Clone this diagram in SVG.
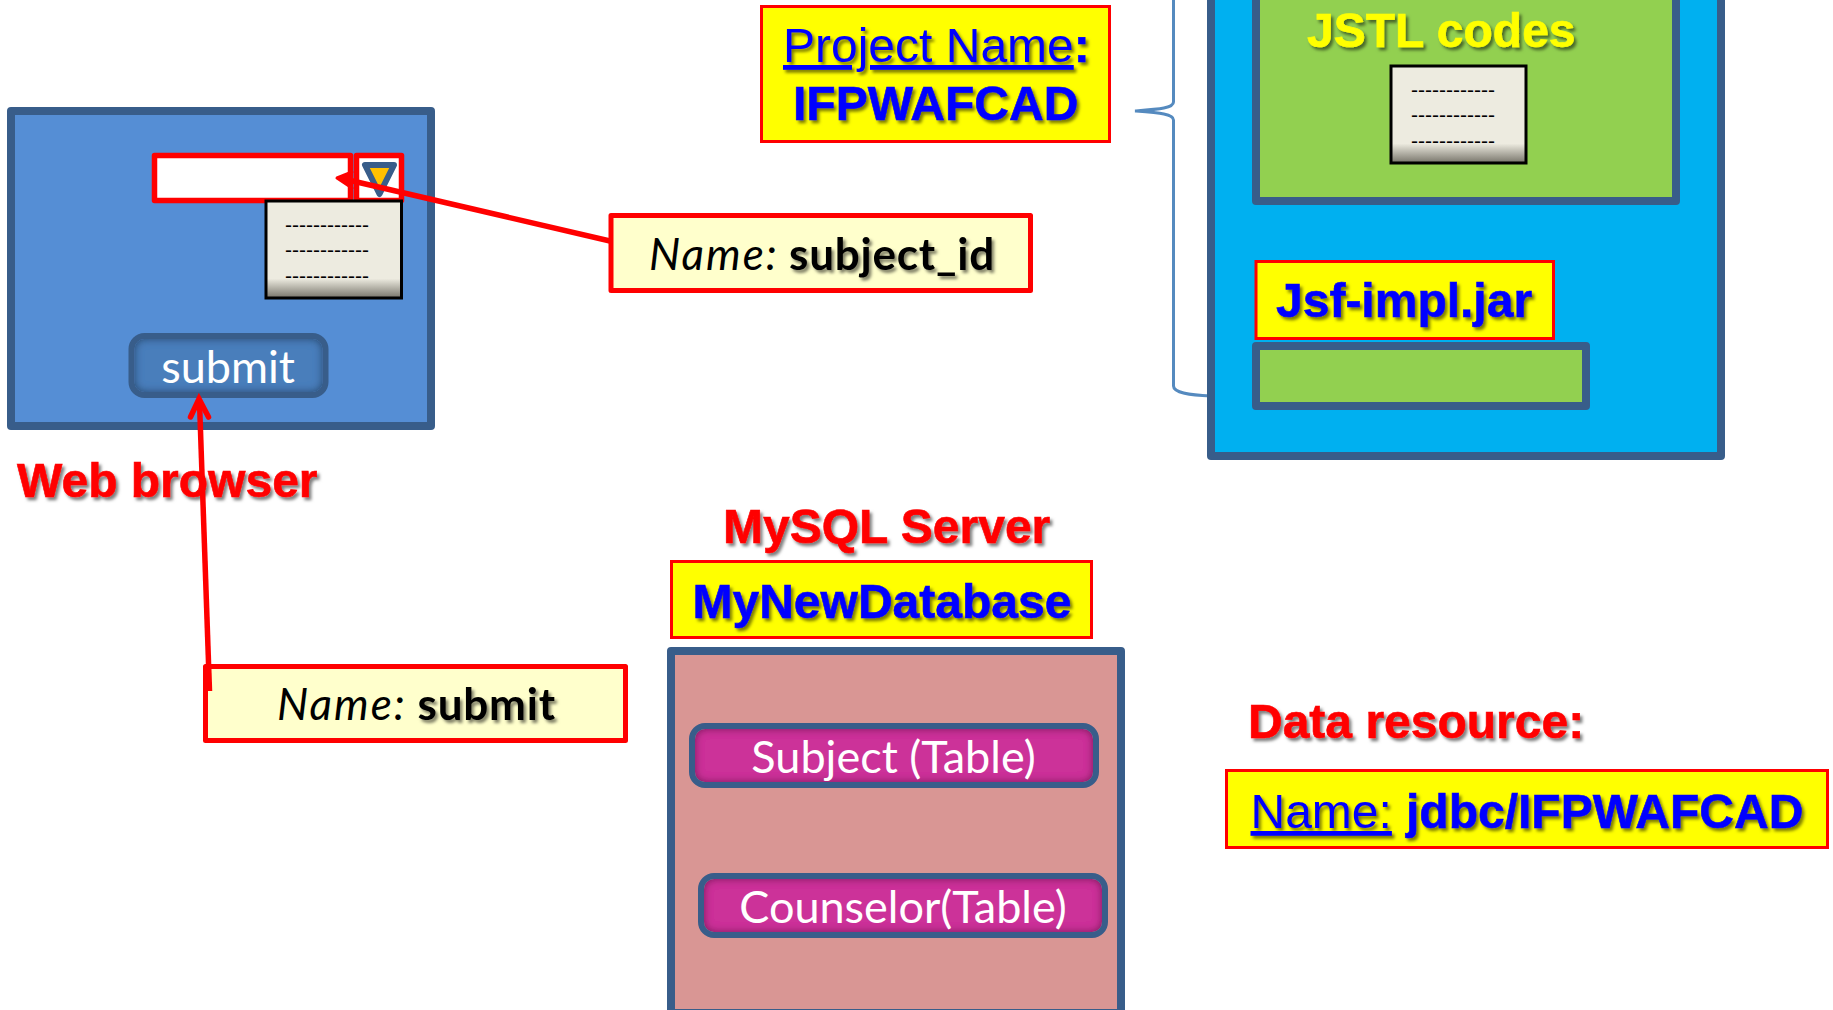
<svg xmlns="http://www.w3.org/2000/svg" width="1833" height="1010" viewBox="0 0 1833 1010">
<style>
.panel{stroke:#385D8A;stroke-width:8;stroke-linejoin:round}
.label{fill:#FFFF00;stroke:#FF0000;stroke-width:3}
.note{fill:#FFFFCC;stroke:#FF0000;stroke-width:5;stroke-linejoin:round}
.ar{font-family:"Liberation Sans",Arial,sans-serif;font-size:48px;filter:url(#shadow);stroke-width:0}
.ar.b,.ar .b{font-weight:700;stroke-width:.6}
.nb{font-weight:700;letter-spacing:.8px}
.it{font-style:italic;letter-spacing:2px}
.red{fill:#FF0000;stroke:#FF0000}.blue{fill:#0000FF;stroke:#0000FF}.yel{fill:#FFFF00;stroke:#FFFF00}
.lato{font-family:Lato,"Open Sans",sans-serif}
.wht{fill:#FFFFFF;font-size:45px}
.nt{font-size:44px;fill:#000}
.dash{font-family:"Liberation Sans",Arial,sans-serif;font-size:21px;fill:#000}
.edge{fill:none;stroke:#385D8A;stroke-width:6}
.list{fill:url(#listfill);stroke:#000;stroke-width:3}
.conn{fill:none;stroke:#FF0000;stroke-width:5.5}
</style>
<defs>
<filter id="shadow" x="-5%" y="-20%" width="110%" height="150%"><feDropShadow dx="2.500" dy="3" stdDeviation="1.800" flood-color="#000" flood-opacity="0.5"/></filter>
<filter id="inner" x="-5%" y="-15%" width="110%" height="130%">
<feComponentTransfer in="SourceAlpha" result="inv"><feFuncA type="table" tableValues="1 0"/></feComponentTransfer>
<feGaussianBlur in="inv" stdDeviation="4" result="bl"/>
<feComposite in="bl" in2="SourceAlpha" operator="in" result="s"/>
<feFlood flood-color="#000" flood-opacity="0.8"/>
<feComposite in2="s" operator="in" result="sh"/>
<feMerge><feMergeNode in="SourceGraphic"/><feMergeNode in="sh"/></feMerge>
</filter>
<linearGradient id="listfill" x1="0" y1="0" x2="0" y2="1"><stop offset="0" stop-color="#EDEBE0"/><stop offset="0.8" stop-color="#EDEBE0"/><stop offset="1" stop-color="#77746A"/></linearGradient>
</defs>
<rect width="1833" height="1010" fill="#FFFFFF"/>

<g id="web-browser">
<rect class="panel" x="11" y="111" width="420" height="315" fill="#558ED5"/>
</g>
<g id="input-field"><rect x="154.500" y="155.500" width="196" height="45" fill="#FFFFFF" stroke="#FF0000" stroke-width="5.500" stroke-linejoin="round"/></g>
<g id="dropdown">
<rect x="356.500" y="155.500" width="45" height="45" fill="#FFFFFF" stroke="#FF0000" stroke-width="5.500" stroke-linejoin="round"/>
<path d="M365 165H394L379.500 194Z" fill="#FFC000" stroke="#385D8A" stroke-width="6" stroke-linejoin="round"/>
</g>
<g id="browser-list">
<rect class="list" x="266" y="201" width="135.500" height="97"/>
<text class="dash" x="285" y="232">------------</text>
<text class="dash" x="285" y="257">------------</text>
<text class="dash" x="285" y="283">------------</text>
</g>
<g id="submit-button">
<rect x="134.500" y="339" width="188" height="53" rx="10" fill="#4A7EBB" filter="url(#inner)"/>
<rect class="edge" x="131.500" y="336" width="194" height="59" rx="13"/>
<text class="lato wht" x="228" y="383" text-anchor="middle">submit</text>
</g>
<text id="web-browser-label" class="ar b red" x="17" y="497">Web browser</text>

<g id="name-subject">
<rect class="note" x="611" y="215.500" width="419.500" height="75"/>
<text class="lato nt" x="649" y="270"><tspan class="it">Name:</tspan> <tspan class="nb" x="789" filter="url(#shadow)">subject_id</tspan></text>
</g>
<g id="name-submit">
<rect class="note" x="205.500" y="666.500" width="420" height="74"/>
<text class="lato nt" x="277" y="720"><tspan class="it">Name:</tspan> <tspan class="nb" x="417.500" filter="url(#shadow)">submit</tspan></text>
</g>

<g id="connectors">
<path class="conn" d="M610 241L344 179"/>
<path d="M337 178L352 172L348 179L352 188Z" fill="#FF0000" stroke="#FF0000" stroke-width="3" stroke-linejoin="round"/>
<path class="conn" d="M209.500 691L199.500 402"/>
<path class="conn" stroke-linecap="round" d="M190.500 417L199 399L208.500 417"/>
<path d="M1173.500 -4V102C1173.500 108 1160 109 1135 111C1160 113 1173.500 114 1173.500 120V386C1173.500 393 1190 395 1211 396" fill="none" stroke="#558ABF" stroke-width="3"/>
</g>

<g id="project-name">
<rect class="label" x="761.500" y="6.500" width="348" height="135"/>
<text class="ar blue" x="783" y="62"><tspan text-decoration="underline">Project Name</tspan><tspan class="b">:</tspan></text>
<text class="ar b blue" x="793" y="120">IFPWAFCAD</text>
</g>

<g id="app-server">
<rect class="panel" x="1211" y="-12" width="510" height="468" fill="#00B0F0"/>
</g>
<g id="jstl-panel">
<rect class="panel" x="1256" y="-12" width="420" height="213" fill="#92D050"/>
<text class="ar b yel" x="1307" y="47">JSTL codes</text>
<rect class="list" x="1391" y="66" width="135" height="97"/>
<text class="dash" x="1411" y="97">------------</text>
<text class="dash" x="1411" y="122">------------</text>
<text class="dash" x="1411" y="148">------------</text>
</g>
<g id="jsf-impl">
<rect class="label" x="1256" y="261.500" width="297.500" height="77"/>
<text class="ar b blue" x="1276" y="317">Jsf-impl.jar</text>
</g>
<g id="jar-bar"><rect class="panel" x="1256" y="346" width="330" height="60" fill="#92D050"/></g>

<text id="mysql-label" class="ar b red" x="723" y="543">MySQL Server</text>
<g id="my-new-database">
<rect class="label" x="671.500" y="561.500" width="420" height="76"/>
<text class="ar b blue" x="692.500" y="617.500">MyNewDatabase</text>
</g>
<g id="database">
<rect class="panel" x="671" y="651" width="450" height="362" fill="#D99694"/>
</g>
<g id="subject-table">
<rect x="695" y="729" width="398" height="53" rx="10" fill="#CC3399" filter="url(#inner)"/>
<rect class="edge" x="692" y="726" width="404" height="59" rx="13"/>
<text class="lato wht" x="893.500" y="773" text-anchor="middle">Subject (Table)</text>
</g>
<g id="counselor-table">
<rect x="704" y="879" width="398" height="53" rx="10" fill="#CC3399" filter="url(#inner)"/>
<rect class="edge" x="701" y="876" width="404" height="59" rx="13"/>
<text class="lato wht" x="903" y="923" text-anchor="middle">Counselor(Table)</text>
</g>

<text id="data-resource-label" class="ar b red" x="1248" y="738">Data resource:</text>
<g id="data-resource-name">
<rect class="label" x="1226.500" y="770.500" width="601" height="77"/>
<text class="ar blue" x="1250.500" y="828"><tspan text-decoration="underline">Name:</tspan> <tspan class="b" x="1406">jdbc/IFPWAFCAD</tspan></text>
</g>
</svg>
